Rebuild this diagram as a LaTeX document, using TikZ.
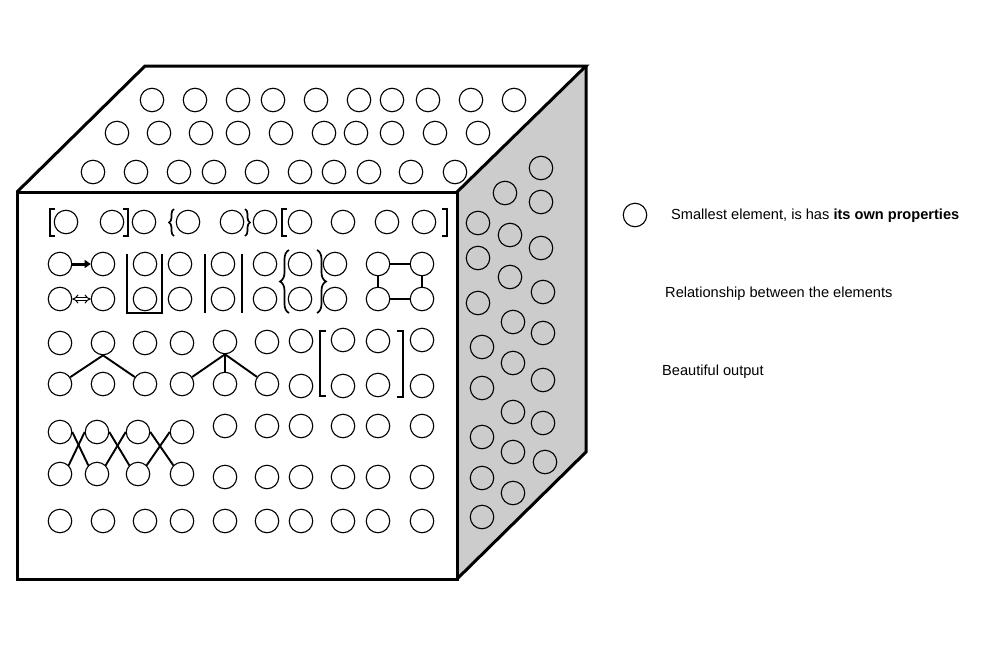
\documentclass[tikz,border=0pt]{standalone}
\usepackage{fontspec}
\setmainfont{Liberation Sans}
\usetikzlibrary{arrows.meta,decorations.pathreplacing}
\definecolor{sidegray}{HTML}{CCCCCC}
\begin{document}
\begin{tikzpicture}[x=1pt,y=-1pt,
  elem/.style={circle,draw,minimum size=23.5pt,inner sep=0pt,line width=1.1pt},
  cubeedge/.style={line width=3pt,line join=miter},
  rel/.style={line width=1.9pt},
  bracket/.style={line width=1.6pt},
  curly/.style={line width=1.7pt,decorate,decoration={brace,amplitude=#1}},
  curly/.default=5pt,
  lbl/.style={anchor=west,inner sep=0pt,font=\fontsize{14.6}{17}\selectfont}]
\useasboundingbox (0,0) rectangle (995,664);

% cube corners
\coordinate (A) at (17,192);
\coordinate (B) at (457,192);
\coordinate (C) at (457,579);
\coordinate (D) at (17,579);
\coordinate (E) at (145,66);
\coordinate (F) at (586,66);
\coordinate (G) at (586,452);

\fill[sidegray] (B) -- (F) -- (G) -- (C) -- cycle;

% top face
\foreach \x [count=\i] in {152,195,238,273,316,359,392,428,471,514}
  \node[elem] (ta\i) at (\x,100) {};
\foreach \x [count=\i] in {117,159,201,238,281,324,356,392,435,478}
  \node[elem] (tb\i) at (\x,133) {};
\foreach \x [count=\i] in {93,136,179,214,257,300,334,369,411,455}
  \node[elem] (tc\i) at (\x,172) {};

% right face
\foreach \x/\y [count=\i] in {541/168,505/193,541/202,478/223,510/235,541/248,
  478/258,510/277,543/292,478/303,513/322,543/333,482/347,513/363,543/380,
  482/388,513/412,543/423,482/437,513/452,545/462,482/478,513/493,482/517}
  \node[elem] (s\i) at (\x,\y) {};

% front face rows
\foreach \x [count=\i] in {66,112,144,188,232,265,300,343,387,424}
  \node[elem] (a\i) at (\x,222) {};
\foreach \x [count=\i] in {60,103,145,180,223,265,300,335,378,422}
  \node[elem] (b\i) at (\x,264) {};
\foreach \x [count=\i] in {60,103,145,180,223,265,300,335,378,422}
  \node[elem] (c\i) at (\x,299) {};
\foreach \x/\y [count=\i] in {60/343,103/343,145/343,182/343,225/342,267/342,301/341,343/340,378/341,422/340}
  \node[elem] (d\i) at (\x,\y) {};
\foreach \x/\y [count=\i] in {60/384,103/384,145/384,182/384,225/384,267/384,301/386,343/386,378/385,422/386}
  \node[elem] (e\i) at (\x,\y) {};
\foreach \x/\y [count=\i] in {60/432,97/432,138/432,182/432,225/426,267/426,301/426,343/426,378/426,422/426}
  \node[elem] (f\i) at (\x,\y) {};
\foreach \x/\y [count=\i] in {60/474,97/474,138/474,182/474,225/477,267/477,301/477,343/477,378/477,422/477}
  \node[elem] (g\i) at (\x,\y) {};
\foreach \x [count=\i] in {60,103,145,182,225,267,301,343,378,422}
  \node[elem] (h\i) at (\x,521) {};

% row 1 brackets and braces
\draw[bracket] (55,209) -- (50,209) -- (50,236) -- (55,236);
\draw[bracket] (123,209) -- (128,209) -- (128,236) -- (123,236);
\draw[curly] (174,236) -- (174,209);
\draw[curly] (245,209) -- (245,236);
\draw[bracket] (287,209) -- (282,209) -- (282,236) -- (287,236);
\draw[bracket] (442,209) -- (447,209) -- (447,236) -- (442,236);

% rows 2-3 relations
\draw[line width=3pt,-{Triangle[length=6pt,width=8pt]}] (b1) -- (b2);
\draw[line width=1pt,double,double distance=2pt,{Implies}-{Implies}] (c1) -- (c2);
\draw[bracket] (127,254) -- (127,313) -- (162,313) -- (162,254);
\draw[bracket] (205,254) -- (205,313);
\draw[bracket] (242,254) -- (242,313);
\draw[curly=9pt] (289,313) -- (289,250);
\draw[curly=9pt] (317,250) -- (317,313);
\draw[rel] (b9) -- (b10);
\draw[rel] (c9) -- (c10);
\draw[rel] (b9) -- (c9);
\draw[rel] (b10) -- (c10);

% rows 4-5 trees and bracket
\draw[rel] (d2.south) -- (e1);
\draw[rel] (d2.south) -- (e3);
\draw[rel] (d5.south) -- (e4);
\draw[rel] (d5.south) -- (e5);
\draw[rel] (d5.south) -- (e6);
\draw[bracket] (326,331) -- (320,331) -- (320,396) -- (326,396);
\draw[bracket] (397,331) -- (403,331) -- (403,397) -- (397,397);

% rows 6-7 crossings
\draw[rel] (f1.east) -- (g2.north west);
\draw[rel] (g1.north east) -- (f2.west);
\draw[rel] (f2.east) -- (g3.north west);
\draw[rel] (g2.north east) -- (f3.west);
\draw[rel] (f3.east) -- (g4.north west);
\draw[rel] (g3.north east) -- (f4.west);

% cube edges
\draw[cubeedge] (A) rectangle (C);
\draw[cubeedge] (A) -- (E) -- (F) -- (B);
\draw[cubeedge] (F) -- (G) -- (C);

% legend
\node[elem] (key) at (635,215) {};
\node[lbl] (t1) at (671,216) {Smallest element, is has \textbf{its own properties}};
\node[lbl] (t2) at (665,294) {Relationship between the elements};
\node[lbl] (t3) at (662,372) {Beautiful output};
\end{tikzpicture}
\end{document}
